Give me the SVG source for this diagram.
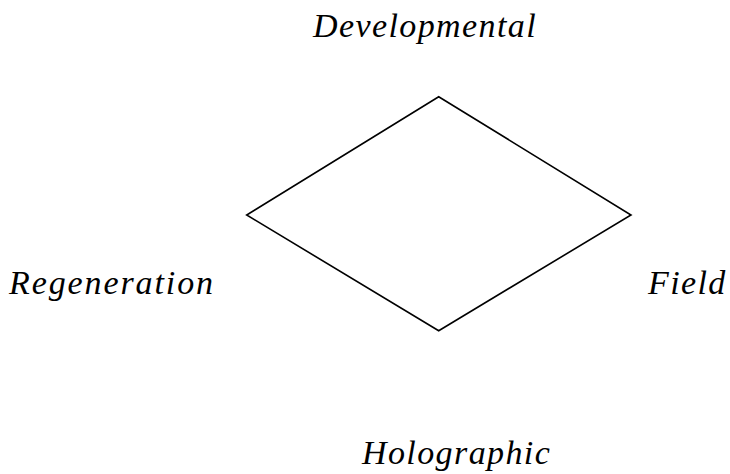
<svg xmlns="http://www.w3.org/2000/svg" width="730" height="474" viewBox="0 0 730 474">
<style>
text{font-family:"Liberation Serif","Times New Roman",serif;font-style:italic;font-size:34px;letter-spacing:1.4px;fill:#000}
.edge{fill:none;stroke:#000;stroke-width:1.6}
</style>
<rect width="730" height="474" fill="#fff"/>
<g id="connectors">
<polygon class="edge" points="438.7,96.7 631,215 438.7,330.7 246.7,215"/>
</g>
<g id="developmental"><text x="313" y="37">Developmental</text></g>
<g id="regeneration"><text x="9" y="294" style="letter-spacing:1.9px">Regeneration</text></g>
<g id="field"><text x="648" y="294">Field</text></g>
<g id="holographic"><text x="362" y="464">Holographic</text></g>
</svg>
